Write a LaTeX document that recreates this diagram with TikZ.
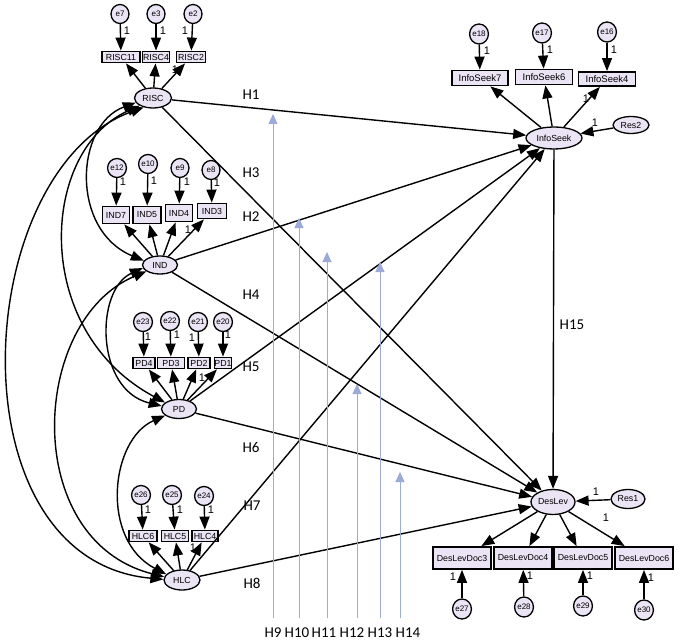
\documentclass[tikz,border=0pt]{standalone}
\usepackage{fontspec}
\usetikzlibrary{shapes.geometric,arrows.meta}
\newfontfamily\arialf{Liberation Sans}
\newfontfamily\calf{Carlito}
\definecolor{fillc}{RGB}{234,228,244}
\definecolor{modc}{RGB}{155,170,214}
\begin{document}
\begin{tikzpicture}[x=1pt,y=-1pt,
 lat/.style={ellipse,draw,line width=1.3pt,fill=fillc,inner sep=0pt,font=\arialf\fontsize{8.8}{9}\selectfont},
 obs/.style={rectangle,draw,line width=1.8pt,fill=fillc,inner sep=0pt,font=\arialf\fontsize{8.8}{9}\selectfont},
 err/.style={ellipse,draw,line width=1.3pt,fill=fillc,inner sep=0pt,minimum width=18pt,minimum height=19pt,font=\arialf\fontsize{8}{8}\selectfont},
 arr/.style={line width=1.4pt,-{Triangle[length=13pt,width=10pt]}},
 cov/.style={line width=1.4pt,{Triangle[length=13pt,width=10pt]}-{Triangle[length=13pt,width=10pt]}},
 one/.style={font=\arialf\fontsize{11}{12}\selectfont,inner sep=0pt},
 hl/.style={font=\calf\fontsize{15}{16}\selectfont,inner sep=0pt},
 modarr/.style={draw=modc,color=modc,line width=1pt,-{Triangle[length=10pt,width=9pt]}},
 mlab/.style={hl,outer ysep=10pt},
]
\useasboundingbox (0,0) rectangle (679,644);

% ---------- RISC ----------
\node[lat,minimum width=37pt,minimum height=20pt] (RISC) at (153,98) {RISC};
\node[obs,minimum width=38pt,minimum height=11pt] (RISC11) at (121,57) {RISC11};
\node[obs,minimum width=27pt,minimum height=11pt] (RISC4) at (156,57) {RISC4};
\node[obs,minimum width=29pt,minimum height=11pt] (RISC2) at (191,57) {RISC2};
\node[err] (e7) at (120,14) {e7};
\node[err] (e3) at (156,14) {e3};
\node[err] (e2) at (193,14) {e2};
\draw[arr] (e7) -- (RISC11);
\draw[arr] (e3) -- (RISC4);
\draw[arr] (e2) -- (RISC2);
\draw[arr] (RISC) -- (RISC11);
\draw[arr] (RISC) -- (RISC4);
\draw[arr] (RISC) -- (RISC2);

% ---------- IND ----------
\node[lat,minimum width=35pt,minimum height=18pt] (IND) at (160,265) {IND};
\node[obs,minimum width=27pt,minimum height=17pt] (IND7) at (116,215) {IND7};
\node[obs,minimum width=28pt,minimum height=17pt] (IND5) at (147,215) {IND5};
\node[obs,minimum width=27pt,minimum height=17pt] (IND4) at (179,213) {IND4};
\node[obs,minimum width=29pt,minimum height=15pt] (IND3) at (212,211) {IND3};
\node[err] (e12) at (117,168) {e12};
\node[err] (e10) at (148,164) {e10};
\node[err] (e9) at (180,168) {e9};
\node[err] (e8) at (211,170) {e8};
\draw[arr] (e12) -- (IND7);
\draw[arr] (e10) -- (IND5);
\draw[arr] (e9) -- (IND4);
\draw[arr] (e8) -- (IND3);
\draw[arr] (IND) -- (IND7);
\draw[arr] (IND) -- (IND5);
\draw[arr] (IND) -- (IND4);
\draw[arr] (IND) -- (IND3);

% ---------- PD ----------
\node[lat,minimum width=35pt,minimum height=19pt] (PD) at (179,409) {PD};
\node[obs,minimum width=22pt,minimum height=11pt] (PD4) at (144,363) {PD4};
\node[obs,minimum width=27pt,minimum height=11pt] (PD3) at (171,363) {PD3};
\node[obs,minimum width=22pt,minimum height=11pt] (PD2) at (199,363) {PD2};
\node[obs,minimum width=17pt,minimum height=11pt] (PD1) at (223,363) {PD1};
\node[err] (e23) at (143,322) {e23};
\node[err] (e22) at (170,321) {e22};
\node[err] (e21) at (198,322) {e21};
\node[err] (e20) at (223,322) {e20};
\draw[arr] (e23) -- (PD4);
\draw[arr] (e22) -- (PD3);
\draw[arr] (e21) -- (PD2);
\draw[arr] (e20) -- (PD1);
\draw[arr] (PD) -- (PD4);
\draw[arr] (PD) -- (PD3);
\draw[arr] (PD) -- (PD2);
\draw[arr] (PD) -- (PD1);

% ---------- HLC ----------
\node[lat,minimum width=36pt,minimum height=20pt] (HLC) at (182,580) {HLC};
\node[obs,minimum width=28pt,minimum height=11pt] (HLC6) at (143,536) {HLC6};
\node[obs,minimum width=27pt,minimum height=11pt] (HLC5) at (175,536) {HLC5};
\node[obs,minimum width=26pt,minimum height=11pt] (HLC4) at (205,536) {HLC4};
\node[err] (e26) at (141,495) {e26};
\node[err] (e25) at (172,495) {e25};
\node[err] (e24) at (204,496) {e24};
\draw[arr] (e26) -- (HLC6);
\draw[arr] (e25) -- (HLC5);
\draw[arr] (e24) -- (HLC4);
\draw[arr] (HLC) -- (HLC6);
\draw[arr] (HLC) -- (HLC5);
\draw[arr] (HLC) -- (HLC4);

% ---------- InfoSeek ----------
\node[lat,minimum width=56pt,minimum height=22pt] (InfoSeek) at (554,138) {InfoSeek};
\node[obs,minimum width=56pt,minimum height=15pt,font=\arialf\fontsize{9.5}{10}\selectfont] (IS7) at (480,78) {InfoSeek7};
\node[obs,minimum width=57pt,minimum height=15pt,font=\arialf\fontsize{9.5}{10}\selectfont] (IS6) at (544,77) {InfoSeek6};
\node[obs,minimum width=57pt,minimum height=14pt,font=\arialf\fontsize{9.5}{10}\selectfont] (IS4) at (607,79) {InfoSeek4};
\node[err,minimum height=20pt] (e18) at (479,34) {e18};
\node[err,minimum height=20pt] (e17) at (542,33) {e17};
\node[err,minimum height=20pt] (e16) at (607,32) {e16};
\node[lat,minimum width=36pt,minimum height=17pt] (Res2) at (631,125) {Res2};
\draw[arr] (e18) -- (IS7);
\draw[arr] (e17) -- (IS6);
\draw[arr] (e16) -- (IS4);
\draw[arr] (InfoSeek) -- (IS7);
\draw[arr] (InfoSeek) -- (IS6);
\draw[arr] (InfoSeek) -- (IS4);
\draw[arr] (Res2) -- (InfoSeek);

% ---------- DesLev ----------
\node[lat,minimum width=44pt,minimum height=25pt] (DesLev) at (553,502) {DesLev};
\node[lat,minimum width=34pt,minimum height=19pt] (Res1) at (628,499) {Res1};
\node[obs,minimum width=58pt,minimum height=22pt] (DL3) at (462,558) {DesLevDoc3};
\node[obs,minimum width=58pt,minimum height=22pt] (DL4) at (523,558) {DesLevDoc4};
\node[obs,minimum width=58pt,minimum height=22pt] (DL5) at (583,558) {DesLevDoc5};
\node[obs,minimum width=58pt,minimum height=22pt] (DL6) at (644,558) {DesLevDoc6};
\node[err,minimum height=20pt] (e27) at (462,609) {e27};
\node[err,minimum height=20pt] (e28) at (524,607) {e28};
\node[err,minimum height=20pt] (e29) at (583,606) {e29};
\node[err,minimum height=20pt] (e30) at (644,610) {e30};
\draw[arr] (e27) -- (DL3);
\draw[arr] (e28) -- (DL4);
\draw[arr] (e29) -- (DL5);
\draw[arr] (e30) -- (DL6);
\draw[arr] (DesLev) -- (DL3);
\draw[arr] (DesLev) -- (DL4);
\draw[arr] (DesLev) -- (DL5);
\draw[arr] (DesLev) -- (DL6);
\draw[arr] (Res1) -- (DesLev);

% ---------- structural paths ----------
\draw[arr] (RISC) -- (InfoSeek);
\draw[arr] (RISC) -- (DesLev);
\draw[arr] (IND) -- (InfoSeek);
\draw[arr] (IND) -- (DesLev);
\draw[arr] (PD) -- (InfoSeek);
\draw[arr] (PD) -- (DesLev);
\draw[arr] (HLC) -- (InfoSeek);
\draw[arr] (HLC) -- (DesLev);
\draw[arr] (InfoSeek) -- (DesLev);

\node[hl] (lH1) at (251,95) {H1};
\node[hl] (lH3) at (251,173) {H3};
\node[hl] (lH2) at (251,217) {H2};
\node[hl] (lH4) at (251,295) {H4};
\node[hl] (lH5) at (251,367) {H5};
\node[hl] (lH6) at (251,447) {H6};
\node[hl] (lH7) at (252,506) {H7};
\node[hl] (lH8) at (252,583) {H8};
\node[hl] (lH15) at (572,325) {H15};

% ---------- covariances ----------
\draw[cov] (RISC.195) .. controls (75,125) and (70,230) .. (IND.165);
\draw[cov] (RISC.210) .. controls (40,150) and (30,330) .. (PD.155);
\draw[cov] (RISC.225) .. controls (-30,170) and (-50,560) .. (HLC.178);
\draw[cov] (IND.190) .. controls (95,290) and (95,390) .. (PD.170);
\draw[cov] (IND.205) .. controls (30,320) and (20,540) .. (HLC.170);
\draw[cov] (PD.205) .. controls (110,440) and (100,540) .. (HLC.160);

% ---------- moderators ----------
\coordinate (t9) at (273,114);
\coordinate (t10) at (299,218);
\coordinate (t11) at (327,252);
\coordinate (t12) at (357,384);
\coordinate (t13) at (380,262);
\coordinate (t14) at (400,472);
\node[mlab] (H9) at (273,632.5) {H9};
\node[mlab] (H10) at (297,632.5) {H10};
\node[mlab] (H11) at (324,632.5) {H11};
\node[mlab] (H12) at (352,632.5) {H12};
\node[mlab] (H13) at (380,632.5) {H13};
\node[mlab] (H14) at (408,632.5) {H14};
\draw[modarr] (H9.north -| t9) -- (t9);
\draw[modarr] (H10.north -| t10) -- (t10);
\draw[modarr] (H11.north -| t11) -- (t11);
\draw[modarr] (H12.north -| t12) -- (t12);
\draw[modarr] (H13.north -| t13) -- (t13);
\draw[modarr] (H14.north -| t14) -- (t14);

% ---------- "1" labels ----------
\node[one] (o1) at (127,31) {1};
\node[one] (o2) at (163,31) {1};
\node[one] (o3) at (185,31) {1};
\node[one] (o4) at (175,70) {1};
\node[one] (o5) at (123,182) {1};
\node[one] (o6) at (154,181) {1};
\node[one] (o7) at (187,182) {1};
\node[one] (o8) at (217,183) {1};
\node[one] (o9) at (188,230) {1};
\node[one] (o10) at (148,337) {1};
\node[one] (o11) at (177,335) {1};
\node[one] (o12) at (192,338) {1};
\node[one] (o13) at (228,335) {1};
\node[one] (o14) at (202,378) {1};
\node[one] (o15) at (148,510) {1};
\node[one] (o16) at (180,510) {1};
\node[one] (o17) at (211,510) {1};
\node[one] (o18) at (193,548) {1};
\node[one] (o19) at (487,51) {1};
\node[one] (o20) at (550,50) {1};
\node[one] (o21) at (614,50) {1};
\node[one] (o22) at (586,99) {1};
\node[one] (o23) at (595,123) {1};
\node[one] (o24) at (596,492) {1};
\node[one] (o25) at (606,518) {1};
\node[one] (o26) at (453,577) {1};
\node[one] (o27) at (530,576) {1};
\node[one] (o28) at (590,576) {1};
\node[one] (o29) at (651,578) {1};
\end{tikzpicture}
\end{document}
